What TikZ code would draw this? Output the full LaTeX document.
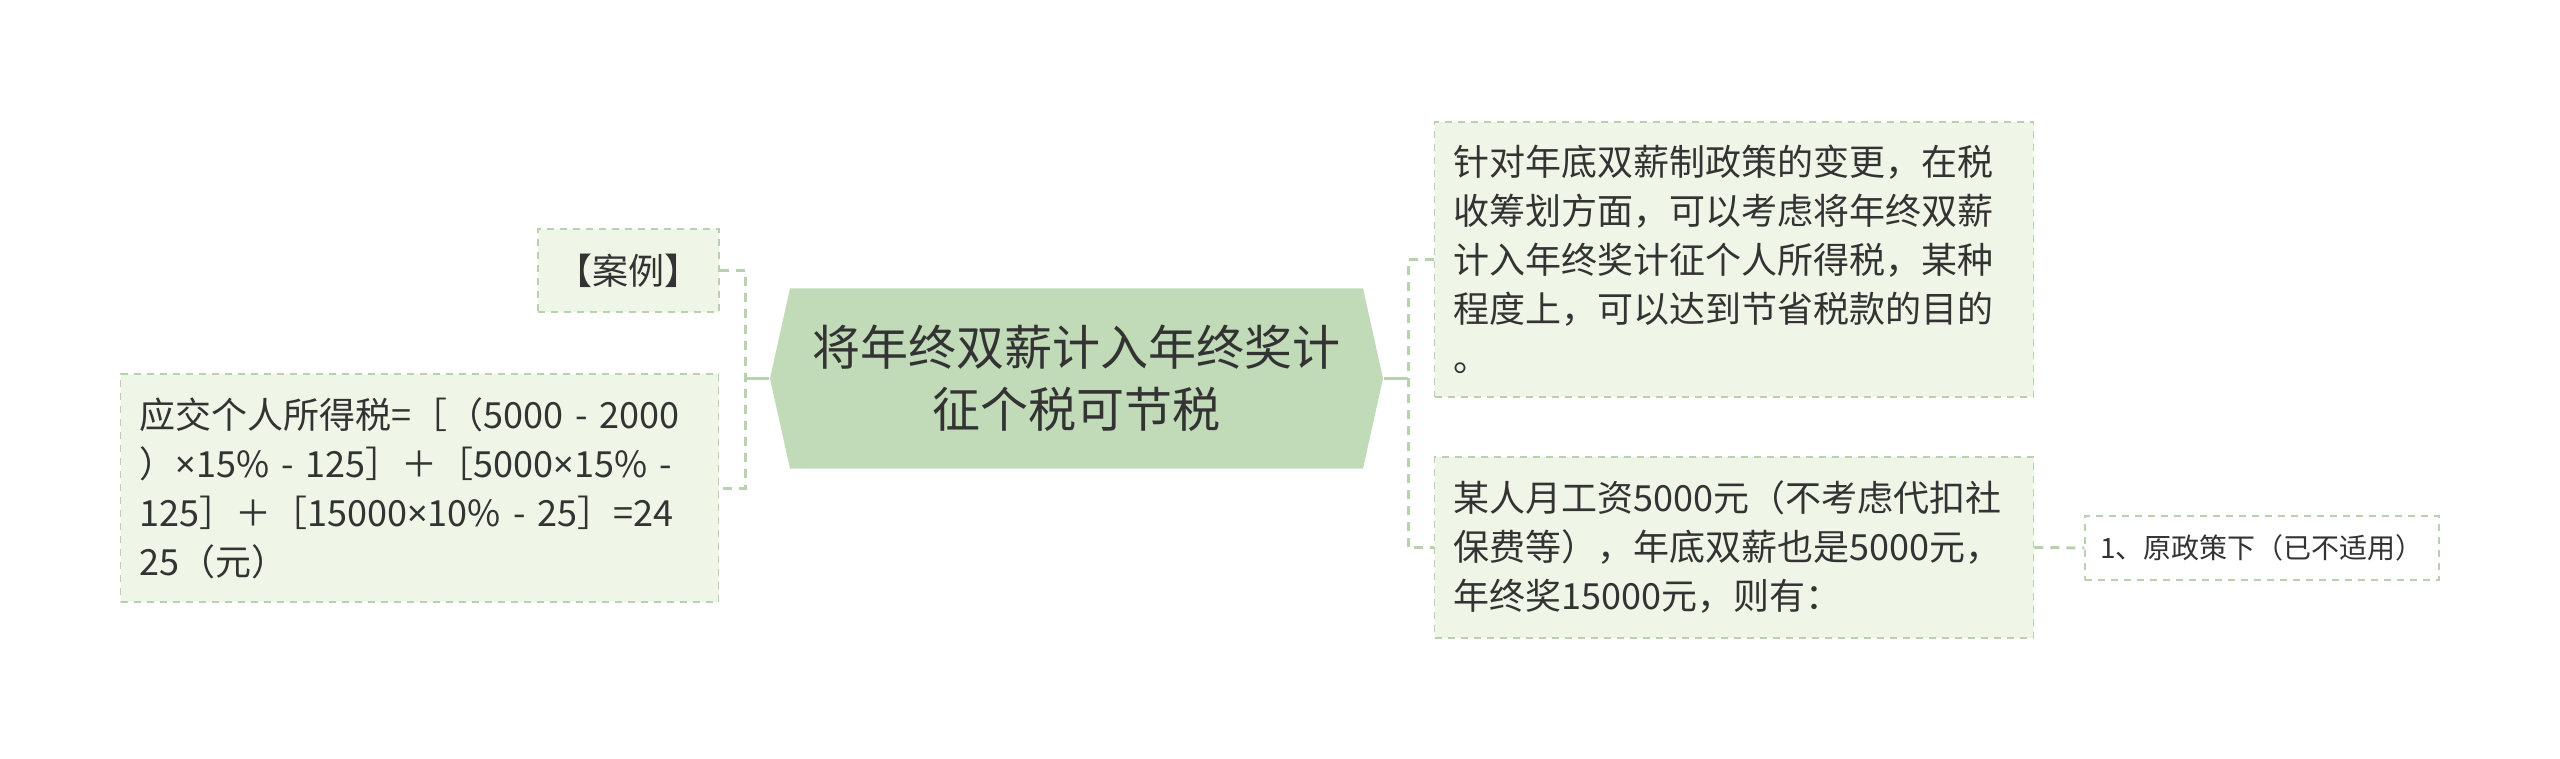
\documentclass[tikz,border=0pt]{standalone}
\usepackage{fontspec}
\setmainfont{Noto Sans CJK SC}
\newfontfamily\signfont{Noto Sans}
\newcommand{\tms}{{\signfont ×}}
\usetikzlibrary{shapes.symbols}
\definecolor{rootgreen}{HTML}{C1DBB8}
\definecolor{boxgreen}{HTML}{EFF6E8}
\definecolor{edgegreen}{HTML}{B8D2B0}
\definecolor{linkgreen}{HTML}{B6D3AE}
\definecolor{textgray}{HTML}{333333}

\begin{document}
\begin{tikzpicture}[x=0.5pt, y=-0.5pt, thick]
\tikzstyle{every node}=[text=textgray, inner sep=0pt]
\tikzstyle{root}=[shape=signal, signal to=west and east, signal pointer angle=155, fill=rootgreen, minimum width=306.5pt, minimum height=90pt, align=center, font=\fontsize{24}{31}\selectfont]
\tikzstyle{leaf}=[draw=edgegreen, fill=boxgreen, line width=0.75pt, dash pattern=on 3.5pt off 3pt, inner xsep=9.5pt, align=left, font=\fontsize{18}{24.5}\selectfont]
\tikzstyle{tip}=[draw=edgegreen, line width=0.75pt, dash pattern=on 3.5pt off 3pt, align=center, font=\fontsize{14}{18}\selectfont]
\tikzstyle{link}=[draw=linkgreen, line width=1.5pt, dash pattern=on 4.5pt off 3.5pt]
\tikzstyle{trunk}=[draw=linkgreen, line width=1.5pt]

\useasboundingbox (0,0) rectangle (2560,759);

\node[root] (root) at (1076.5,378.5) {将年终双薪计入年终奖计\\征个税可节税};

\node[leaf, inner xsep=9pt, text width=72.5pt, align=center, minimum height=41.5pt] (case) at (628.5,270.5) {【案例】};
\node[leaf, text width=280pt, minimum height=114pt] (formula) at (419.5,488) {应交个人所得税=［（5000 - 2000\\）\tms15\% - 125］＋［5000\tms15\% -\\125］＋［15000\tms10\% - 25］=24\\25（元）};

\node[leaf, text width=280.5pt, minimum height=137.5pt] (desc) at (1734,259.5) {针对年底双薪制政策的变更，在税\\收筹划方面，可以考虑将年终双薪\\计入年终奖计征个人所得税，某种\\程度上，可以达到节省税款的目的\\。};
\node[leaf, text width=280.5pt, minimum height=90.5pt] (example) at (1734,547.5) {某人月工资5000元（不考虑代扣社\\保费等），年底双薪也是5000元，\\年终奖15000元，则有：};
\node[tip, minimum width=177pt, minimum height=32pt] (policy) at (2262,548) {1、原政策下（已不适用）};

\coordinate (lj) at (745,378.5);
\coordinate (rj) at (1408,378.5);

\draw[trunk] (root.west) -- (lj);
\draw[trunk] (root.east) -- (rj);
\draw[link] (case.east) -| (lj) |- (formula.east);
\draw[link] (desc.west) -| (rj) |- (example.west);
\draw[link] (example.east) -- (policy.west);
\end{tikzpicture}
\end{document}
